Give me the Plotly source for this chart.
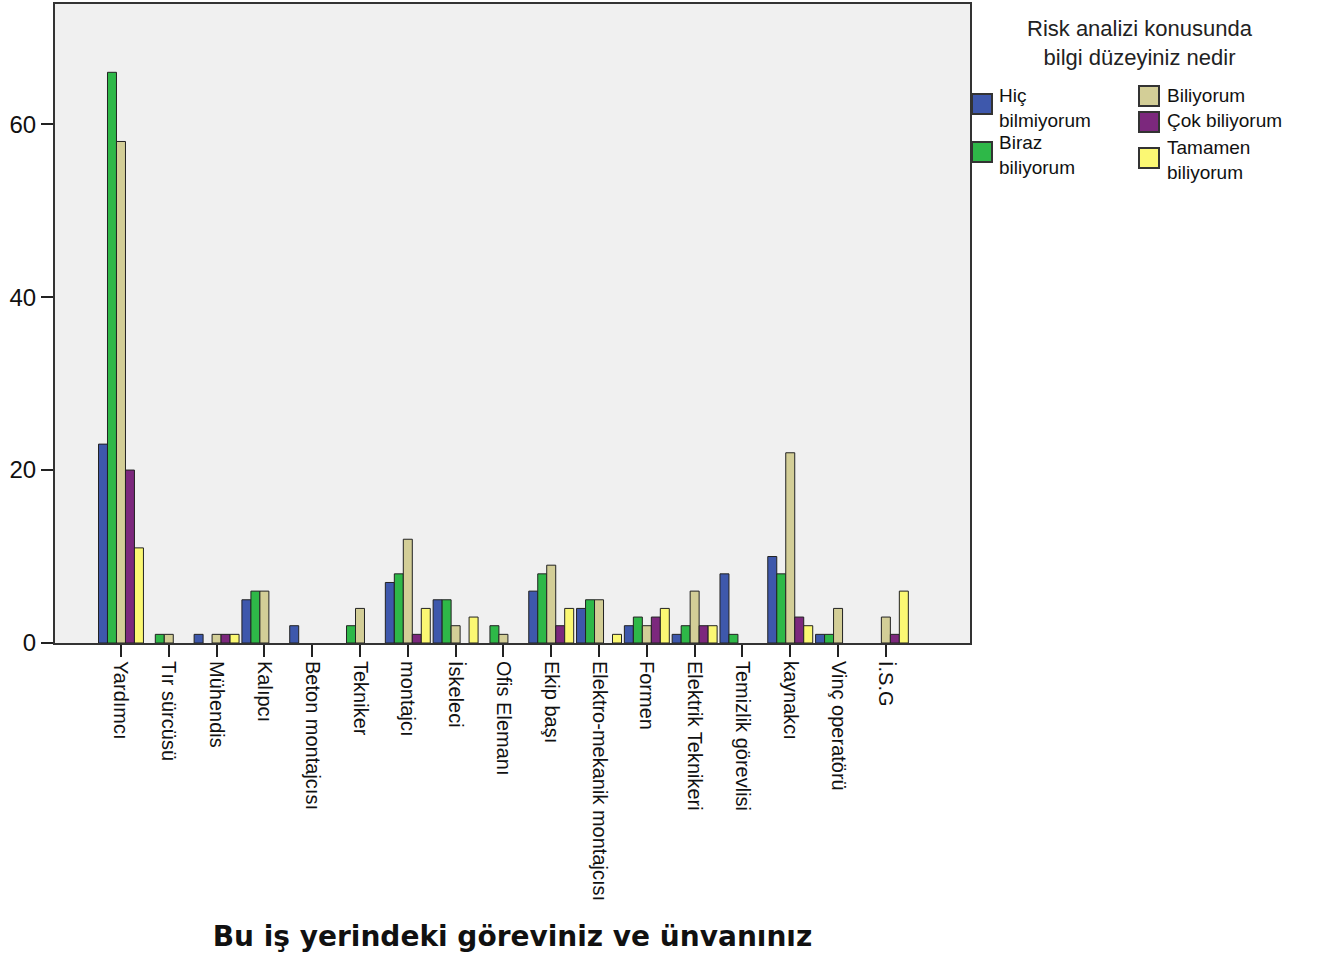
import plotly.graph_objects as go

categories = ["Yardımcı", "Tır sürcüsü", "Mühendis", "Kalıpcı", "Beton montajcısı",
              "Tekniker", "montajcı", "İskeleci", "Ofis Elemanı", "Ekip başı",
              "Elektro-mekanik montajcısı", "Formen", "Elektrik Teknikeri",
              "Temizlik görevlisi", "kaynakcı", "Vinç operatörü", "İ.S.G"]

hic_bilmiyorum    = [23, 0, 1, 5, 2, 0, 7, 5, 0, 6, 4, 2, 1, 8, 10, 1, 0]
biraz_biliyorum   = [66, 1, 0, 6, 0, 2, 8, 5, 2, 8, 5, 3, 2, 1, 8, 1, 0]
biliyorum         = [58, 1, 1, 6, 0, 4, 12, 2, 1, 9, 5, 2, 6, 0, 22, 4, 3]
cok_biliyorum     = [20, 0, 1, 0, 0, 0, 1, 0, 0, 2, 0, 3, 2, 0, 3, 0, 1]
tamamen_biliyorum = [11, 0, 1, 0, 0, 0, 4, 3, 0, 4, 1, 4, 2, 0, 2, 0, 6]

series_names = ["Hiç bilmiyorum", "Biraz biliyorum", "Biliyorum",
                "Çok biliyorum", "Tamamen biliyorum"]
legend_labels = ["Hiç<br>bilmiyorum", "Biraz<br>biliyorum", "Biliyorum",
                 "Çok biliyorum", "Tamamen<br>biliyorum"]
series_values = [hic_bilmiyorum, biraz_biliyorum, biliyorum, cok_biliyorum, tamamen_biliyorum]
colors = ["#3E58AC", "#2EB848", "#D3CE97", "#7C287D", "#FBF873"]

y_ticks = [0, 20, 40, 60]
legend_title = "Risk analizi konusunda<br>bilgi düzeyiniz nedir"
x_title = "Bu iş yerindeki göreviniz ve ünvanınız"

# plot-area geometry (pixels) used to place the hand-drawn legend
W, H = 1338, 959
ML, MR, MT, MB = 55, 368, 4, 316
PW, PH = W - ML - MR, H - MT - MB


def px_x(p):
    return (p - ML) / PW


def px_y(p):
    return (H - MB - p) / PH


fig = go.Figure()
for name, vals, col in zip(series_names, series_values, colors):
    fig.add_trace(go.Bar(
        x=categories, y=[v if v > 0 else None for v in vals], name=name,
        marker=dict(color=col, line=dict(color="#222222", width=1)),
        showlegend=False,
    ))

font_main = "Liberation Sans, Arial, sans-serif"

# legend layout: (swatch left px, swatch top px, text left px, text centre px)
legend_pos = [(972, 94, 997, 108), (972, 142, 997, 155),
              (1139, 86, 1165, 96), (1139, 112, 1165, 121), (1139, 148, 1165, 160)]
shapes = []
annotations = []
for (sx, sy, tx, ty), label, col in zip(legend_pos, legend_labels, colors):
    shapes.append(dict(type="rect", xref="paper", yref="paper",
                       x0=px_x(sx), x1=px_x(sx + 20), y0=px_y(sy), y1=px_y(sy + 20),
                       fillcolor=col, line=dict(color="#333333", width=2)))
    annotations.append(dict(text=label, xref="paper", yref="paper",
                            x=px_x(tx), y=px_y(ty), align="left",
                            xanchor="left", yanchor="middle", showarrow=False,
                            font=dict(family=font_main, size=19, color="#111111")))
annotations.append(dict(text=legend_title, xref="paper", yref="paper",
                        x=px_x(1140), y=px_y(43), xanchor="center", yanchor="middle",
                        showarrow=False, align="center",
                        font=dict(family=font_main, size=22, color="#222222")))

fig.update_layout(
    width=W, height=H,
    barmode="group", bargap=0.06, bargroupgap=0,
    paper_bgcolor="white", plot_bgcolor="#F0F0F0",
    margin=dict(l=ML, r=MR, t=MT, b=MB, autoexpand=False),
    font=dict(family=font_main, size=17, color="#111111"),
    showlegend=False,
    xaxis=dict(
        type="category", categoryorder="array", categoryarray=categories,
        range=[-1.38, 17.76], tickangle=90, ticks="outside", ticklen=12,
        tickcolor="#222222", tickwidth=2, automargin=False,
        showline=True, linecolor="#333333", linewidth=2, mirror=True,
        showgrid=False, tickfont=dict(size=20, family=font_main, color="#111111"),
        title=dict(text=x_title, font=dict(family="DejaVu Sans", size=28, color="#111111", weight="bold"),
                   standoff=26),
    ),
    yaxis=dict(
        range=[0, 73.9], tickvals=y_ticks, ticks="outside", ticklen=12,
        tickcolor="#222222", tickwidth=2, automargin=False,
        showline=True, linecolor="#333333", linewidth=2, mirror=True,
        showgrid=False, zeroline=False,
        tickfont=dict(size=24, family=font_main, color="#111111"),
    ),
    shapes=shapes,
    annotations=annotations,
)

fig.write_html("out.html", config={"displayModeBar": False},
               post_script="document.body.style.margin='0px';")
